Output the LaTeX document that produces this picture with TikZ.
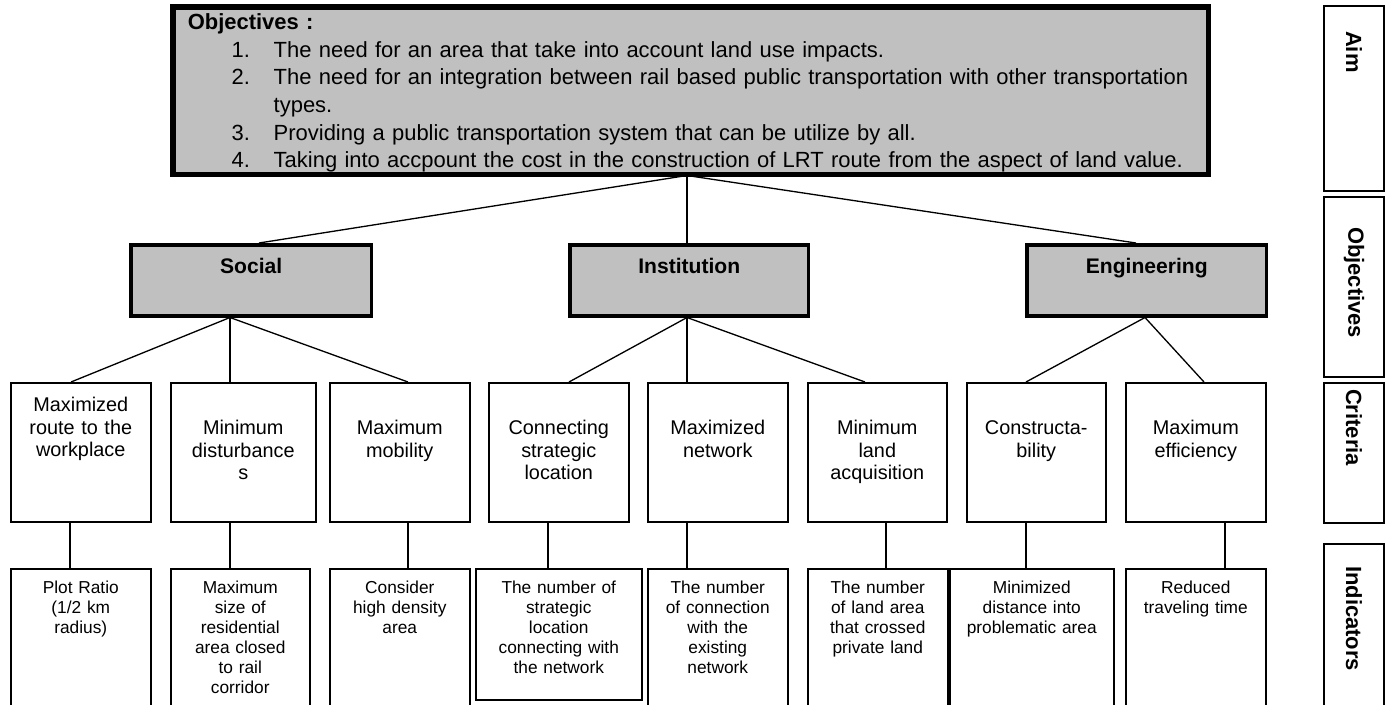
\documentclass[tikz,border=0pt]{standalone}
\usepackage{fontspec}
\setmainfont{Liberation Sans}
\definecolor{boxgray}{HTML}{C0C0C0}

\tikzset{
    conn/.style={line width=0.75pt},
    goalbox/.style={draw, line width=2pt, fill=boxgray, anchor=north west, inner sep=0pt, align=center,
        font=\bfseries\fontsize{12}{14}\selectfont, text height=0.58cm, text depth=0.84cm},
    critbox/.style={draw, line width=0.9pt, anchor=north west, inner sep=0pt, align=center, text width=2.8cm,
        font=\fontsize{11.3}{12.8}\selectfont, text height=1.04cm, text depth=1.74cm},
    indbox/.style={draw, line width=0.9pt, anchor=north west, inner sep=0pt, align=center, text width=2.8cm,
        font=\fontsize{9.85}{11.4}\selectfont, text height=0.5cm, text depth=2.9cm},
    levelbox/.style={draw, line width=1.2pt, rotate=-90, anchor=south west, inner ysep=0pt, minimum height=1.2cm,
        align=left, font=\bfseries\fontsize{12.5}{14}\selectfont}
}

\begin{document}
\begin{tikzpicture}[x=0.02cm, y=-0.02cm]
    \useasboundingbox (0,0) rectangle (1390,704);

    \node[draw, line width=2pt, fill=boxgray, anchor=north west, inner xsep=0.28cm, inner ysep=0pt,
        text width=20.12cm, align=left, font=\fontsize{12.5}{15.7}\selectfont,
        text height=0.44cm, text depth=2.88cm] (aim) at (172,6) {%
        \textbf{Objectives :}\\
        \hspace*{0.88cm}\makebox[0.84cm][l]{1.}The need for an area that take into account land use impacts.\\
        \hspace*{0.88cm}\makebox[0.84cm][l]{2.}The need for an integration between rail based public transportation with other transportation\\
        \hspace*{0.88cm}\makebox[0.84cm][l]{}types.\\
        \hspace*{0.88cm}\makebox[0.84cm][l]{3.}Providing a public transportation system that can be utilize by all.\\
        \hspace*{0.88cm}\makebox[0.84cm][l]{4.}Taking into accpount the cost in the construction of LRT route from the aspect of land value.};
    \draw[line width=2pt] (aim.north west) rectangle (aim.south east);

    \node[goalbox, text width=4.82cm] (social) at (129,243) {Social};
    \node[goalbox, text width=4.78cm] (inst) at (568,243) {Institution};
    \node[goalbox, text width=4.8cm] (eng) at (1025,243) {Engineering};

    \node[critbox, text height=0.58cm, text depth=2.2cm] (c1) at (10,382) {Maximized\\route to the\\workplace};
    \node[critbox, text width=2.9cm] (c2) at (170,382) {Minimum\\disturbance\\s};
    \node[critbox] (c3) at (329,382) {Maximum\\mobility};
    \node[critbox] (c4) at (488,382) {Connecting\\strategic\\location};
    \node[critbox] (c5) at (647,382) {Maximized\\network};
    \node[critbox, text width=2.78cm] (c6) at (807,382) {Minimum\\land\\acquisition};
    \node[critbox, text width=2.78cm] (c7) at (966,382) {Constructa-\\bility};
    \node[critbox] (c8) at (1125,382) {Maximum\\efficiency};

    \node[indbox] (i1) at (10,568) {Plot Ratio\\(1/2 km\\radius)};
    \node[indbox, text width=2.78cm] (i2) at (170,568) {Maximum\\size of\\residential\\area closed\\to rail\\corridor};
    \node[indbox] (i3) at (329,568) {Consider\\high density\\area};
    \node[indbox, text width=3.32cm, text depth=2.12cm] (i4) at (475,568) {The number of\\strategic\\location\\connecting with\\the network};
    \node[indbox] (i5) at (647,568) {The number\\of connection\\with the\\existing\\network};
    \node[indbox] (i6) at (807,568) {The number\\of land area\\that crossed\\private land};
    \node[indbox, text width=3.28cm] (i7) at (949,568) {Minimized\\distance into\\problematic area};
    \node[indbox] (i8) at (1125,568) {Reduced\\traveling time};

    \node[levelbox, inner xsep=0.5cm, text width=2.7cm] (laim) at (1323,5) {Aim};
    \node[levelbox, inner xsep=0.6cm, text width=2.4cm] (lobj) at (1323,196) {Objectives};
    \node[levelbox, inner xsep=0.12cm, text width=2.56cm] (lcrit) at (1323,382) {Criteria};
    \node[levelbox, inner xsep=0.44cm, text width=2.62cm] (lind) at (1323,543) {Indicators};

    \draw[conn] (687,0 |- aim.south) -- (259,0 |- social.north);
    \draw[conn] (687,0 |- aim.south) -- (687,0 |- inst.north);
    \draw[conn] (687,0 |- aim.south) -- (1136,0 |- eng.north);
    \foreach \p/\a/\b/\i in {social/230/71/1, social/230/230/2, social/230/408/3, inst/687/569/4,
        inst/687/687/5, inst/687/865/6, eng/1145/1026/7, eng/1145/1204/8}
        \draw[conn] (\a,0 |- \p.south) -- (\b,0 |- c\i.north);
    \foreach \x[count=\i] in {70,230,408,548,687,886,1026,1225}
        \draw[conn] (\x,0 |- c\i.south) -- (\x,0 |- i\i.north);
\end{tikzpicture}
\end{document}
